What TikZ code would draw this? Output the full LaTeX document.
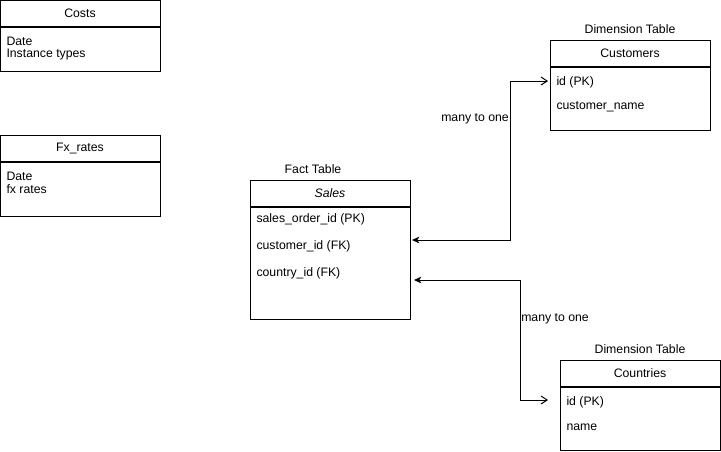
\documentclass[tikz,border=0pt]{standalone}
\usepackage{fontspec}
\setmainfont{Liberation Sans}
\usetikzlibrary{arrows.meta, positioning, calc}

\begin{document}
\begin{tikzpicture}[x=0.75pt,y=-0.75pt,line width=0.75pt,
		every node/.style={font=\fontsize{9.2}{11}\selectfont},
		tablehead/.style={draw,minimum width=120pt,minimum height=19.5pt,inner sep=0pt},
		tablebody/.style={draw,minimum width=120pt,inner sep=0pt},
		field/.style={anchor=west,inner sep=0pt},
		rel/.style={{Stealth[length=5.5pt,width=5pt,inset=1.5pt]}-{Straight Barb[length=4.5pt,width=6pt]}}]
	\useasboundingbox (0,0) rectangle (721,451);
	
	% tables without links
	\node[tablehead] (costshead) at (80,13.5) {Costs};
	\node[tablebody,minimum height=33pt,below=0pt of costshead] (costsbody) {};
	\node[field] (costsdate) at (6,41) {Date};
	\node[field] (costsinst) at (6,55) {Instance types};
	
	\node[tablehead] (fxhead) at (80,148) {Fx\_rates};
	\node[tablebody,minimum height=41pt,below=0pt of fxhead] (fxbody) {};
	\node[field] (fxdate) at (6,176) {Date};
	\node[field] (fxrates) at (6,189) {fx rates};
	
	% fact table
	\node (facttitle) at (313,169) {Fact Table};
	\node[tablehead] (saleshead) at (330,193) {\itshape Sales};
	\node[tablebody,minimum height=84pt,below=0pt of saleshead] (salesbody) {};
	\node[field] (salesid) at (256,219) {sales\_order\_id (PK)};
	\node[field] (salescust) at (256,246) {customer\_id (FK)};
	\node[field] (salescountry) at (256,273) {country\_id (FK)};
	
	% dimension tables
	\node (custtitle) at (630,29) {Dimension Table};
	\node[tablehead] (custhead) at (630,53.5) {Customers};
	\node[tablebody,minimum height=47pt,below=0pt of custhead] (custbody) {};
	\node[field] (custid) at (556,82) {id (PK)};
	\node[field] (custname) at (556,107) {customer\_name};
	
	\node (countrytitle) at (640,349) {Dimension Table};
	\node[tablehead] (countryhead) at (640,373.5) {Countries};
	\node[tablebody,minimum height=47pt,below=0pt of countryhead] (countrybody) {};
	\node[field] (countryid) at (566,402) {id (PK)};
	\node[field] (countryname) at (566,427) {name};
	
	% links
	\coordinate (s1) at (412,240);
	\coordinate (c1) at (548,81);
	\coordinate (s2) at (414,280);
	\coordinate (c2) at (548,400);
	\draw[rel] (s1) -| ($(c1)+(-38,0)$) -- (c1);
	\draw[rel] (s2) -| ($(c2)+(-28,0)$) -- (c2);
	\node (lbl1) at (475,119) {many to one};
	\node (lbl2) at (555,319) {many to one};
\end{tikzpicture}
\end{document}
